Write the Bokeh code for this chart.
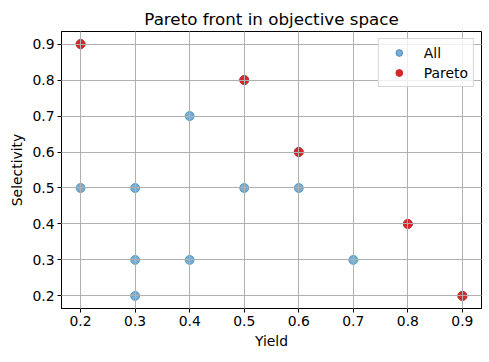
from bokeh.plotting import figure
from bokeh.models import Range1d, FixedTicker, Legend, LegendItem
from bokeh.embed import file_html
from bokeh.resources import INLINE

all_yield = [0.2, 0.2, 0.3, 0.3, 0.3, 0.4, 0.4, 0.5, 0.5, 0.6, 0.6, 0.7, 0.8, 0.9]
all_sel = [0.9, 0.5, 0.5, 0.3, 0.2, 0.7, 0.3, 0.8, 0.5, 0.6, 0.5, 0.3, 0.4, 0.2]
pareto_yield = [0.2, 0.5, 0.6, 0.8, 0.9]
pareto_sel = [0.9, 0.8, 0.6, 0.4, 0.2]
ticks = [0.2, 0.3, 0.4, 0.5, 0.6, 0.7, 0.8, 0.9]

FONT = "DejaVu Sans"

p = figure(frame_width=420, frame_height=277, output_backend="svg", toolbar_location=None,
           x_range=Range1d(0.165, 0.935), y_range=Range1d(0.165, 0.935),
           min_border_left=61, min_border_right=4, min_border_top=31, min_border_bottom=42)
p.title.text = "Pareto front in objective space"
p.title.align = "center"
p.title.text_font = FONT
p.title.text_font_size = "16.7px"
p.title.text_font_style = "normal"
p.title.text_color = "black"
p.title.standoff = 6

r_all = p.scatter(all_yield, all_sel, size=9, fill_color="#1f77b4", line_color="#1f77b4",
                  fill_alpha=0.6, line_alpha=0.6)
r_par = p.scatter(pareto_yield, pareto_sel, size=9, fill_color="#d62728", line_color="#d62728")

for ax in (p.xaxis, p.yaxis):
    ax.ticker = FixedTicker(ticks=ticks)
    ax.major_label_text_font = FONT
    ax.major_label_text_font_size = "13.9px"
    ax.axis_label_text_font = FONT
    ax.axis_label_text_font_size = "13.9px"
    ax.axis_label_text_font_style = "normal"
    ax.axis_label_text_color = "black"
    ax.minor_tick_line_color = None
    ax.major_tick_in = 0
    ax.major_tick_out = 4
    ax.major_label_standoff = 3
    ax.axis_label_standoff = 4
    ax.axis_line_color = "black"
    ax.major_tick_line_color = "black"
    ax.major_label_text_color = "black"
p.xaxis.axis_label = "Yield"
p.yaxis.axis_label = "Selectivity"

p.grid.grid_line_color = "#b0b0b0"
p.grid.grid_line_width = 1
p.grid.level = "guide"
p.outline_line_color = "black"
p.outline_line_alpha = 1

legend = Legend(items=[LegendItem(label="All", renderers=[r_all]),
                       LegendItem(label="Pareto", renderers=[r_par])],
                location="top_right")
legend.label_text_font = FONT
legend.label_text_font_size = "13.9px"
legend.label_text_color = "black"
legend.border_line_color = "#cccccc"
legend.border_line_alpha = 0.8
legend.background_fill_alpha = 0.8
legend.margin = 7
legend.padding = 5
legend.spacing = 3
legend.glyph_width = 30
legend.glyph_height = 17
legend.label_standoff = 10
legend.label_height = 17
p.add_layout(legend)

open("out.html", "w").write(file_html(p, INLINE))
